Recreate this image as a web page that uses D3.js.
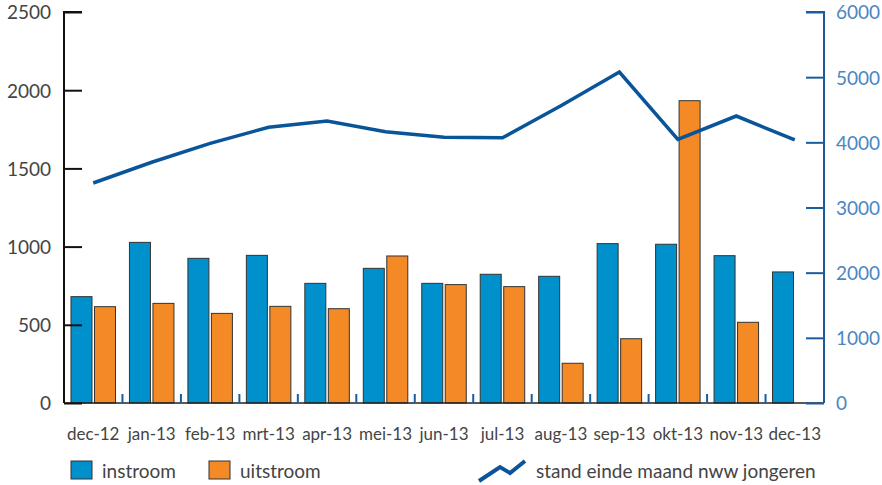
<!doctype html>
<html>
  <head>
    <script src="https://cdn.jsdelivr.net/npm/d3@7"></script>
    <style>
      body { margin: 0; background: #fff; }
      text { font-family: Lato, "Noto Sans", sans-serif; }
    </style>
  </head>
  <body>
    <svg id="chart" width="882" height="485"></svg>
    <script>
      // data
      var months = ["dec-12","jan-13","feb-13","mrt-13","apr-13","mei-13","jun-13","jul-13","aug-13","sep-13","okt-13","nov-13","dec-13"];
      var instroom = [680, 1027, 925, 944, 765, 861, 765, 823, 810, 1019, 1015, 942, 838];
      var uitstroom = [616, 637, 573, 618, 603, 940, 757, 744, 254, 411, 1933, 516, 0];
      var stand = [3376, 3694, 3985, 4231, 4327, 4163, 4077, 4070, 4562, 5079, 4046, 4404, 4036];
      var leftTicks = [0, 500, 1000, 1500, 2000, 2500];
      var rightTicks = [0, 1000, 2000, 3000, 4000, 5000, 6000];

      var svg = d3.select("#chart");
      var pLeft = 64, pRight = 824, pTop = 12, pBottom = 403;
      var textCol = "#444", blue = "#0090cc", orange = "#f38a25", lineCol = "#0a5599", axisBlue = "#1c5c9c", labelBlue = "#4a86c2";

      var x = d3.scaleBand().domain(months).range([pLeft, pRight]);
      var y = d3.scaleLinear().domain([0, 2500]).range([pBottom, pTop]);
      var y2 = d3.scaleLinear().domain([0, 6000]).range([pBottom, pTop]);

      var bw = 21, gap = 2.5;
      var off = (x.bandwidth() - 2 * bw - gap) / 2;

      // bars
      svg.append("g").selectAll("rect")
        .data(instroom)
        .enter().append("rect")
          .attr("x", function(d, i) { return x(months[i]) + off })
          .attr("y", function(d) { return y(d) })
          .attr("width", bw)
          .attr("height", function(d) { return pBottom - y(d) })
          .attr("fill", blue)
          .attr("stroke", "#333")
          .attr("stroke-width", 1);

      svg.append("g").selectAll("rect")
        .data(uitstroom)
        .enter().append("rect")
          .attr("x", function(d, i) { return x(months[i]) + off + bw + gap })
          .attr("y", function(d) { return y(d) })
          .attr("width", bw)
          .attr("height", function(d) { return pBottom - y(d) })
          .attr("fill", orange)
          .attr("stroke", function(d) { return d > 0 ? "#333" : "none" })
          .attr("stroke-width", 1);

      // baseline and small separators
      svg.append("line")
        .attr("x1", pLeft).attr("x2", pRight).attr("y1", pBottom).attr("y2", pBottom)
        .attr("stroke", "#222").attr("stroke-width", 1.5);
      svg.append("g").selectAll("line")
        .data(months)
        .enter().append("line")
          .attr("x1", function(d) { return x(d) }).attr("x2", function(d) { return x(d) })
          .attr("y1", pBottom - 9).attr("y2", pBottom)
          .attr("stroke", axisBlue).attr("stroke-width", 2);

      // left axis
      var gl = svg.append("g").attr("transform", "translate(" + pLeft + ",0)")
        .call(d3.axisRight(y).tickValues(leftTicks).tickSize(18).tickFormat(d3.format("d")));
      gl.select(".domain").attr("stroke", "#111").attr("stroke-width", 2).attr("d", "M18," + pTop + "H0V" + pBottom);
      gl.selectAll(".tick line").attr("stroke", "#111").attr("stroke-width", 2);
      gl.selectAll(".tick text").attr("x", -13).attr("text-anchor", "end")
        .attr("fill", textCol).style("font-size", "19px");

      // right axis
      var gr = svg.append("g").attr("transform", "translate(" + pRight + ",0)")
        .call(d3.axisLeft(y2).tickValues(rightTicks).tickSize(18).tickFormat(d3.format("d")));
      gr.select(".domain").attr("stroke", axisBlue).attr("stroke-width", 2).attr("d", "M-18," + pTop + "H0V" + pBottom);
      gr.selectAll(".tick line").attr("stroke", axisBlue).attr("stroke-width", 2);
      gr.selectAll(".tick text").attr("x", 12).attr("text-anchor", "start")
        .attr("fill", labelBlue).style("font-size", "19px");
      svg.selectAll(".tick text").attr("dy", "0.36em");

      // x labels
      svg.append("g").selectAll("text")
        .data(months)
        .enter().append("text")
          .attr("x", function(d) { return x(d) + x.bandwidth() / 2 })
          .attr("y", 440)
          .attr("text-anchor", "middle")
          .attr("fill", textCol)
          .style("font-size", "17px")
          .text(function(d) { return d });

      // line
      var line = d3.line()
        .x(function(d, i) { return x(months[i]) + x.bandwidth() / 2 })
        .y(function(d) { return y2(d) });
      svg.append("path")
        .datum(stand)
        .attr("d", line)
        .attr("fill", "none")
        .attr("stroke", lineCol)
        .attr("stroke-width", 3.5);

      // legend
      var lg = svg.append("g");
      lg.append("rect").attr("x", 71).attr("y", 461).attr("width", 21).attr("height", 18)
        .attr("fill", blue).attr("stroke", "#333");
      lg.append("text").attr("x", 102).attr("y", 478).attr("fill", textCol).style("font-size", "19px").text("instroom");
      lg.append("rect").attr("x", 209).attr("y", 461).attr("width", 21).attr("height", 18)
        .attr("fill", orange).attr("stroke", "#333");
      lg.append("text").attr("x", 240).attr("y", 478).attr("fill", textCol).style("font-size", "19px").text("uitstroom");
      lg.append("path").attr("d", "M479,481L500,467L510,473L525,461")
        .attr("fill", "none").attr("stroke", lineCol).attr("stroke-width", 4);
      lg.append("text").attr("x", 536).attr("y", 478).attr("fill", textCol).style("font-size", "19px").text("stand einde maand nww jongeren");
    </script>
  </body>
</html>
